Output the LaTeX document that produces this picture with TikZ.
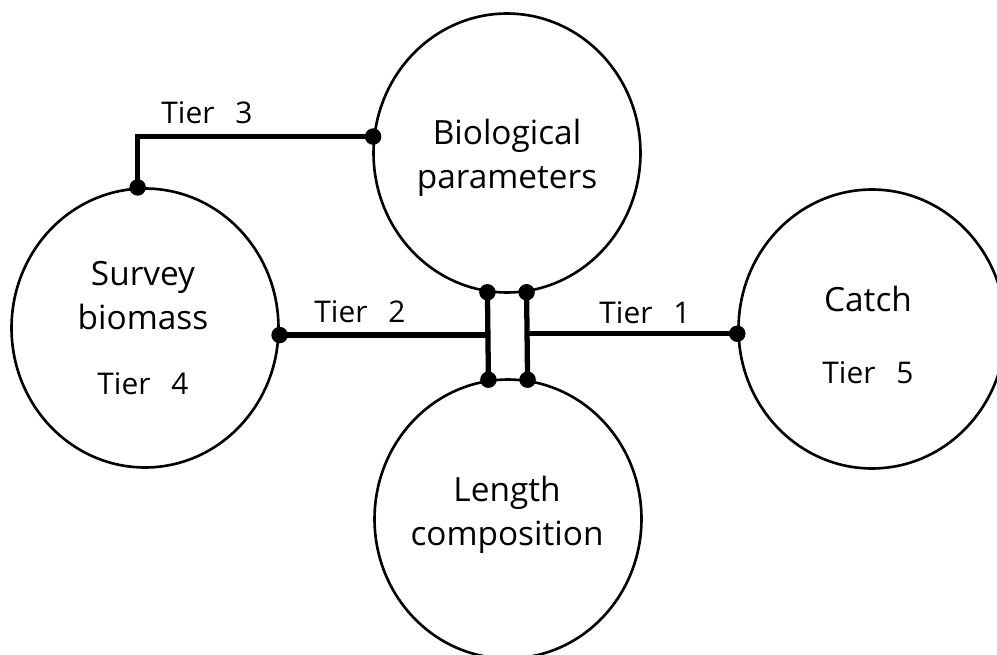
\documentclass[tikz,border=0pt]{standalone}
\usepackage{fontspec}
\setmainfont{Open Sans}
\usetikzlibrary{shapes.geometric}

\tikzset{
  block/.style={draw, ellipse, line width=1.5pt, inner sep=0pt,
    minimum width=5.34cm, minimum height=5.58cm},
  blocktext/.style={align=center, font=\fontsize{19}{25}\selectfont},
  link/.style={line width=3pt},
  tierlabel/.style={font=\fontsize{17}{20}\selectfont},
}
\newcommand{\tier}[1]{Tier\hspace{0.42cm}#1}

\begin{document}
\begin{tikzpicture}[x=0.02cm, y=-0.02cm]
            \useasboundingbox (0,0) rectangle (997,655);
            \clip (0,0) rectangle (997,655);

            % circles
            \node[block] (bio) at (507,153) {};
            \node[block] (survey) at (145,328) {};
            \node[block] (catch) at (872,329) {};
            \node[block] (length) at (508,519) {};

            % circle texts
            \node[blocktext] (biotext) at (507,158) {Biological\\parameters};
            \node[blocktext] (surveytext) at (143,328) {Survey\\biomass\\[0.42cm]{\fontsize{17}{20}\selectfont\tier{4}}};
            \node[blocktext] (catchtext) at (868,335) {Catch\\[0.56cm]{\fontsize{17}{20}\selectfont\tier{5}}};
            \node[blocktext] (lengthtext) at (507,515) {Length\\composition};

            % connection points
            \coordinate (bl) at (bio.262);
            \coordinate (br) at (bio.278);
            \coordinate (ll) at (length.98);
            \coordinate (lr) at (length.82);
            \coordinate (bw) at (bio.173);
            \coordinate (sn) at (survey.93);
            \coordinate (se) at (survey.-3);
            \coordinate (cw) at (catch.182);

            % links
            \draw[link] (bw) -| (sn);
            \draw[link] (bl) -- (ll);
            \draw[link] (br) -- (lr);
            \draw[link] (se) -- (se -| bl);
            \draw[link] (cw) -- (cw -| br);

            % dots
            \foreach \p in {bl, br, ll, lr, bw, sn, se, cw}
                {
                    \fill (\p) circle (0.165cm);
                }

            % notations
            \node[tierlabel] (tthree) at (207,113) {\tier{3}};
            \node[tierlabel] (ttwo) at (360,312) {\tier{2}};
            \node[tierlabel] (tone) at (645,313) {\tier{1}};

        \end{tikzpicture}
\end{document}
